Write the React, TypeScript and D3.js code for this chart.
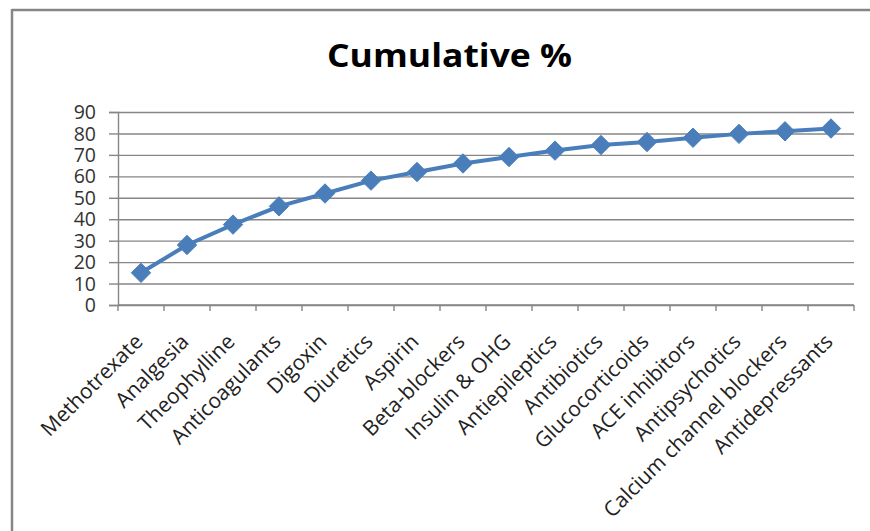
import React, { useEffect, useRef } from "react";
import * as d3 from "d3";

// data
const categories = [
  "Methotrexate",
  "Analgesia",
  "Theophylline",
  "Anticoagulants",
  "Digoxin",
  "Diuretics",
  "Aspirin",
  "Beta-blockers",
  "Insulin & OHG",
  "Antiepileptics",
  "Antibiotics",
  "Glucocorticoids",
  "ACE inhibitors",
  "Antipsychotics",
  "Calcium channel blockers",
  "Antidepressants",
];
const cumulative = [15, 28, 37.5, 46, 52, 58, 62, 66, 69, 72, 74.6, 76, 78, 79.8, 81, 82.3];
const yTicks = [0, 10, 20, 30, 40, 50, 60, 70, 80, 90];
const title = "Cumulative %";

export default function App() {
  const svgRef = useRef<SVGSVGElement>(null);
  const width = 870;
  const height = 531;
  const marginLeft = 118;
  const marginRight = 16;
  const marginTop = 112;
  const plotBottom = 305;

  useEffect(() => {
    const svg = d3.select(svgRef.current);
    svg.selectAll("*").remove();

    const x = d3
      .scaleBand()
      .domain(categories)
      .range([marginLeft, width - marginRight])
      .paddingInner(0)
      .paddingOuter(0);
    const y = d3.scaleLinear([0, 90], [plotBottom, marginTop]);
    const cx = (i: number) => (x(categories[i]) as number) + x.bandwidth() / 2;

    // chart frame (only top and left show in the crop)
    svg.append("line")
      .attr("x1", 12).attr("x2", width).attr("y1", 10).attr("y2", 10)
      .attr("stroke", "#868686").attr("stroke-width", 2.5);
    svg.append("line")
      .attr("x1", 12).attr("x2", 12).attr("y1", 9).attr("y2", height)
      .attr("stroke", "#868686").attr("stroke-width", 2.5);

    svg.append("text")
      .attr("x", 449.5)
      .attr("y", 67)
      .attr("text-anchor", "middle")
      .attr("font-family", "'Open Sans', sans-serif")
      .attr("font-weight", "bold")
      .attr("font-size", 33)
      .attr("textLength", 245)
      .attr("lengthAdjust", "spacingAndGlyphs")
      .attr("fill", "#000")
      .text(title);

    // y axis + gridlines
    const gy = svg.append("g").attr("transform", `translate(${marginLeft},0)`);
    gy.call(
      d3.axisLeft(y)
        .tickValues(yTicks)
        .tickSize(9)
        .tickPadding(13)
    );
    gy.select(".domain").attr("stroke", "#868686").attr("stroke-width", 1.4);
    gy.selectAll(".tick line").attr("stroke", "#868686").attr("stroke-width", 1.4);
    gy.selectAll(".tick")
      .append("line")
      .attr("x1", 0)
      .attr("x2", width - marginRight - marginLeft)
      .attr("stroke", "#868686")
      .attr("stroke-width", 1.4);
    gy.selectAll(".tick text")
      .attr("font-family", "'Open Sans', sans-serif")
      .attr("font-size", 19.5)
      .attr("dy", "0.34em")
      .attr("fill", "#333");

    // x axis with ticks on category boundaries
    const gx = svg.append("g").attr("transform", `translate(0,${plotBottom})`);
    gx.append("line")
      .attr("x1", marginLeft).attr("x2", width - marginRight)
      .attr("stroke", "#868686").attr("stroke-width", 1.4);
    const bounds = categories.map((c) => x(c) as number).concat([width - marginRight]);
    gx.selectAll("line.bound")
      .data(bounds)
      .join("line")
      .attr("class", "bound")
      .attr("x1", (d) => d).attr("x2", (d) => d)
      .attr("y1", 0).attr("y2", 6)
      .attr("stroke", "#868686").attr("stroke-width", 1.4);
    gx.selectAll("text")
      .data(categories)
      .join("text")
      .attr("transform", (d, i) => `translate(${cx(i) + 3},${38}) rotate(-45)`)
      .attr("text-anchor", "end")
      .attr("font-family", "'Open Sans', sans-serif")
      .attr("font-size", 21)
      .attr("fill", "#222")
      .text((d) => d);

    // series line + diamond markers
    const line = d3.line<number>()
      .x((d, i) => cx(i))
      .y((d) => y(d));
    svg.append("path")
      .attr("d", line(cumulative))
      .attr("fill", "none")
      .attr("stroke", "#4a7ebb")
      .attr("stroke-width", 4)
      .attr("stroke-linejoin", "round");

    const diamond = d3.symbol().type(d3.symbolDiamond2).size(240);
    svg.selectAll("path.marker")
      .data(cumulative)
      .join("path")
      .attr("class", "marker")
      .attr("d", diamond)
      .attr("transform", (d, i) => `translate(${cx(i)},${y(d)})`)
      .attr("fill", "#4a7ebb")
      .attr("stroke", "#4a7ebb")
      .attr("stroke-width", 1);
  }, []);

  return (
    <svg
      ref={svgRef}
      width={width}
      height={height}
      style={{ position: "absolute", left: 0, top: 0, background: "#fff" }}
    />
  );
}
